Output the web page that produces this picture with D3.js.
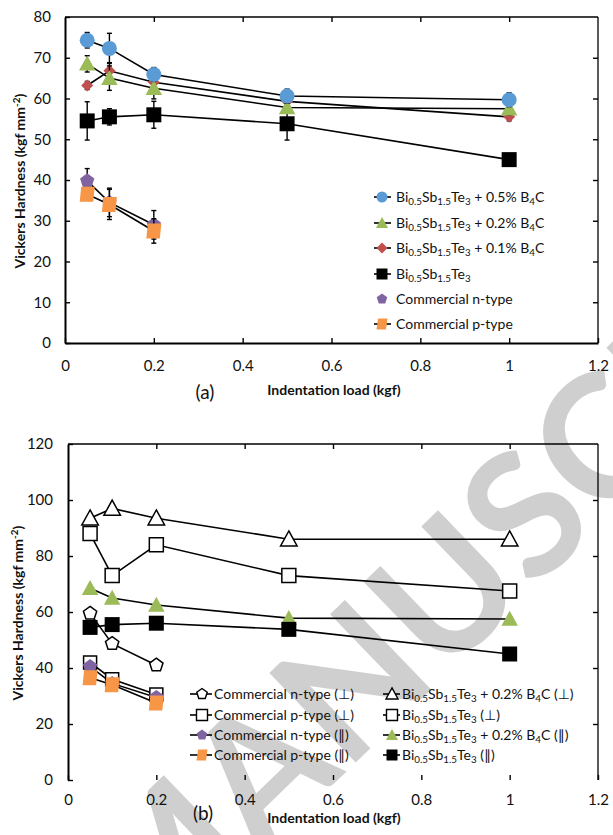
<!DOCTYPE html>
<html><head><meta charset="utf-8">
<script src="https://cdn.jsdelivr.net/npm/d3@7"></script>
<style>
body{margin:0;background:#fff}
svg{display:block}
text{font-family:Lato,"Open Sans","DejaVu Sans",sans-serif;fill:#111}
</style>
</head><body>
<svg id="chart" width="613" height="835"></svg>
<script>
// ---------- DATA ----------
const loads = [0.05, 0.1, 0.2, 0.5, 1];
const commLoads = [0.05, 0.1, 0.2];
const xTicks = [0, 0.2, 0.4, 0.6, 0.8, 1, 1.2];
const xTickLabels = ["0", "0.2", "0.4", "0.6", "0.8", "1", "1.2"];
const yTicksA = [0, 10, 20, 30, 40, 50, 60, 70, 80];
const yTicksB = [0, 20, 40, 60, 80, 100, 120];

// panel (a)
const a_b4c05 = [74.3, 72.3, 65.9, 60.6, 59.7];
const a_b4c05_err = [1.9, 3.7, 1.7, 1.7, 1.7];
const a_b4c02 = [68.5, 65.0, 62.5, 57.8, 57.5];
const a_b4c02_err = [2.0, 3.0, 2.6, 1.0, 1.5];
const a_b4c01 = [63.2, 66.8, 64.0, 59.3, 55.5];
const a_b4c01_err = [1.0, 2.0, 1.0, 1.0, 1.0];
const a_bst = [54.5, 55.5, 56.0, 53.8, 45.0];
const a_bst_err = [4.7, 2.0, 3.3, 4.0, 0.5];
const a_nType = [39.8, 34.5, 29.0];
const a_nType_err = [3.0, 3.5, 3.5];
const a_pType = [36.5, 34.0, 27.5];
const a_pType_err = [1.5, 3.7, 3.0];

// panel (b)
const b_nPerp = [59.5, 48.7, 41.0];
const b_pPerp = [42.0, 36.0, 30.5];
const b_nPar = [40.5, 34.5, 29.5];
const b_pPar = [36.5, 34.0, 27.5];
const b_b4c02Perp = [93.5, 97.0, 93.5, 86.0, 86.0];
const b_bstPerp = [88.0, 73.0, 84.0, 73.0, 67.5];
const b_b4c02Par = [68.5, 65.0, 62.5, 57.8, 57.5];
const b_bstPar = [54.5, 55.5, 56.0, 53.8, 45.0];

const legendA = [
  "Bi_{0.5}Sb_{1.5}Te_{3} + 0.5% B_{4}C",
  "Bi_{0.5}Sb_{1.5}Te_{3} + 0.2% B_{4}C",
  "Bi_{0.5}Sb_{1.5}Te_{3} + 0.1% B_{4}C",
  "Bi_{0.5}Sb_{1.5}Te_{3}",
  "Commercial n-type",
  "Commercial p-type"
];
const legendB1 = ["Commercial n-type (\u22A5)", "Commercial p-type (\u22A5)", "Commercial n-type (\u2225)", "Commercial p-type (\u2225)"];
const legendB2 = ["Bi_{0.5}Sb_{1.5}Te_{3} + 0.2% B_{4}C (\u22A5)", "Bi_{0.5}Sb_{1.5}Te_{3}  (\u22A5)", "Bi_{0.5}Sb_{1.5}Te_{3} + 0.2% B_{4}C (\u2225)", "Bi_{0.5}Sb_{1.5}Te_{3} (\u2225)"];

// ---------- HELPERS ----------
const COL = {blue:"#5b9bd5", green:"#9bbb59", red:"#c0504d", black:"#000", purple:"#8064a2", orange:"#f79646"};
const svg = d3.select("#chart");

function poly(pts){ return "M" + pts.map(p => p[0].toFixed(2) + "," + p[1].toFixed(2)).join("L") + "Z"; }
function regular(n, r, rot){ const a=[]; for(let k=0;k<n;k++){ const t = rot + k*2*Math.PI/n; a.push([r*Math.cos(t), r*Math.sin(t)]);} return a; }
function markerPath(type, s){
  switch(type){
    case "circle": return d3.symbol(d3.symbolCircle, Math.PI*s*s/4)();
    case "square": return poly([[-s/2,-s/2],[s/2,-s/2],[s/2,s/2],[-s/2,s/2]]);
    case "triangle": return poly([[0,-s*0.55],[s*0.55,s*0.45],[-s*0.55,s*0.45]]);
    case "diamond": return poly([[0,-s/2],[s/2,0],[0,s/2],[-s/2,0]]);
    case "pentagon": return poly(regular(5, s/2, -Math.PI/2));
    case "para": return poly([[-s/2+1.5,-s/2],[s/2,-s/2],[s/2-1.5,s/2],[-s/2,s/2]]);
  }
}
function richText(sel, str, size){
  const parts = str.split(/(_\{[^}]*\})/).filter(p => p.length);
  let sub = false;
  parts.forEach(p => {
    if (p.startsWith("_{")) {
      sel.append("tspan").attr("dy", 3).attr("font-size", size*0.7).text(p.slice(2,-1));
      sub = true;
    } else {
      const t = sel.append("tspan").text(p);
      if (sub) { t.attr("dy", -3); sub = false; }
    }
  });
}

function panel(cfg){
  const x = d3.scaleLinear().domain([0, 1.2]).range([cfg.left, cfg.right]);
  const y = d3.scaleLinear().domain([0, cfg.ymax]).range([cfg.bottom, cfg.top]);
  const g = svg.append("g");
  const fr = g.append("g").attr("stroke", "#000").attr("fill", "none");
  fr.append("line").attr("x1", cfg.left).attr("x2", cfg.right).attr("y1", cfg.top).attr("y2", cfg.top).attr("stroke-width", 1.3);
  fr.append("line").attr("x1", cfg.right).attr("x2", cfg.right).attr("y1", cfg.top).attr("y2", cfg.bottom).attr("stroke-width", 1.3);

  const yAx = g.append("g").attr("transform", `translate(${cfg.left},0)`)
    .call(d3.axisLeft(y).tickValues(cfg.yTicks).tickSize(-5).tickPadding(cfg.yPad).tickSizeOuter(0));
  const xAx = g.append("g").attr("transform", `translate(0,${cfg.bottom})`)
    .call(d3.axisBottom(x).tickValues(xTicks).tickFormat((d,i) => xTickLabels[i]).tickSize(-5).tickPadding(cfg.xPad).tickSizeOuter(0));
  const topAx = g.append("g").attr("transform", `translate(0,${cfg.top})`)
    .call(d3.axisTop(x).tickValues(xTicks.slice(1,-1)).tickSize(-5).tickFormat("").tickSizeOuter(0));
  const rAx = g.append("g").attr("transform", `translate(${cfg.right},0)`)
    .call(d3.axisRight(y).tickValues(cfg.yTicks.slice(1,-1)).tickSize(-5).tickFormat("").tickSizeOuter(0));
  [yAx, xAx, topAx, rAx].forEach(a => { a.selectAll("text").attr("font-size", 15).attr("font-family", "Lato").attr("fill", "#111"); a.selectAll(".tick line").attr("stroke-width", 1.4); });
  topAx.select(".domain").remove(); rAx.select(".domain").remove();
  yAx.select(".domain").attr("stroke-width", 2);
  if (cfg.bottomLine) xAx.select(".domain").attr("stroke-width", 2); else xAx.select(".domain").remove();
  return {x, y, g};
}

function series(P, xs, vals, opt){
  const {x, y, g} = P;
  const pts = xs.map((d,i) => [d, vals[i]]);
  const sg = g.append("g");
  if (opt.err) {
    const eg = sg.append("g").attr("stroke", "#000").attr("stroke-width", 1.4);
    pts.forEach((p,i) => {
      const e = opt.err[i];
      eg.append("line").attr("x1", x(p[0])).attr("x2", x(p[0])).attr("y1", y(p[1]-e)).attr("y2", y(p[1]+e));
      [p[1]-e, p[1]+e].forEach(v => eg.append("line").attr("x1", x(p[0])-2.5).attr("x2", x(p[0])+2.5).attr("y1", y(v)).attr("y2", y(v)));
    });
  }
  sg.append("path").datum(pts).attr("fill", "none").attr("stroke", "#000").attr("stroke-width", 1.6)
    .attr("d", d3.line().x(d => x(d[0])).y(d => y(d[1])));
  sg.selectAll(".m").data(pts).join("path")
    .attr("transform", d => `translate(${x(d[0])},${y(d[1])})`)
    .attr("d", markerPath(opt.shape, opt.size))
    .attr("fill", opt.open ? "#fff" : opt.color)
    .attr("stroke", opt.open ? "#000" : "none")
    .attr("stroke-width", opt.open ? 1.5 : 0);
}

function legendRow(x0, x1, mx, y, tx, label, opt, size, fs, noLine){
  const lg = svg.append("g");
  if (!noLine) lg.append("line").attr("x1", x0).attr("x2", x1).attr("y1", y).attr("y2", y).attr("stroke", "#000").attr("stroke-width", 1.6);
  lg.append("path").attr("transform", `translate(${mx},${y})`).attr("d", markerPath(opt.shape, size))
    .attr("fill", opt.open ? "#fff" : opt.color).attr("stroke", opt.open ? "#000" : "none").attr("stroke-width", opt.open ? 1.4 : 0);
  const t = lg.append("text").attr("x", tx).attr("y", y + 5).attr("font-size", fs);
  richText(t, label, fs);
}

// ---------- WATERMARK (panel b) ----------
svg.append("defs").append("clipPath").attr("id", "pageClip")
  .append("rect").attr("x", 0).attr("y", 0).attr("width", 613).attr("height", 835);
svg.append("g").attr("clip-path", "url(#pageClip)")
  .append("text").attr("transform", "translate(143,968) rotate(-44)")
  .attr("font-family", "Liberation Sans, Arial, sans-serif").attr("font-weight", "bold")
  .attr("font-size", 172).style("fill", "#cfcfcf").text("MANUSCRIPT");

// ---------- PANEL (a) ----------
const PA = panel({left:65, right:598, top:17, bottom:343, ymax:80, yTicks:yTicksA, yPad:14, xPad:17, bottomLine:true});
const optA = [
  {shape:"circle", size:15, color:COL.blue},
  {shape:"triangle", size:15, color:COL.green},
  {shape:"diamond", size:12, color:COL.red},
  {shape:"square", size:15, color:COL.black},
  {shape:"pentagon", size:15, color:COL.purple},
  {shape:"para", size:15, color:COL.orange}
];
series(PA, loads, a_bst, {...optA[3], err:a_bst_err});
series(PA, loads, a_b4c01, {...optA[2], err:a_b4c01_err});
series(PA, loads, a_b4c02, {...optA[1], err:a_b4c02_err});
series(PA, loads, a_b4c05, {...optA[0], err:a_b4c05_err});
series(PA, commLoads, a_nType, {...optA[4], err:a_nType_err});
series(PA, commLoads, a_pType, {...optA[5], err:a_pType_err});

const legAy = [197, 223, 248, 274, 299, 324];
legendA.forEach((lab, i) => legendRow(374, 391, 382, legAy[i], 396, lab, optA[i], 11, 14, i === 4));

svg.append("text").attr("x", 20).attr("y", 181).attr("transform", "rotate(-90,20,181)")
  .attr("text-anchor", "middle").attr("dy", "0.35em").attr("font-size", 14).attr("font-weight", "bold")
  .html("Vickers Hardness (kgf mm<tspan dy='-5' font-size='10'>-2</tspan><tspan dy='5'>)</tspan>");
svg.append("text").attr("x", 334).attr("y", 395).attr("text-anchor", "middle").attr("font-size", 14).attr("font-weight", "bold").text("Indentation load (kgf)");
svg.append("text").attr("x", 205).attr("y", 399).attr("text-anchor", "middle").attr("font-size", 19).text("(a)");

// ---------- PANEL (b) ----------
const PB = panel({left:68, right:598, top:444, bottom:780, ymax:120, yTicks:yTicksB, yPad:15, xPad:14, bottomLine:false});
const optB1 = [
  {shape:"pentagon", size:14, open:true},
  {shape:"square", size:13, open:true},
  {shape:"pentagon", size:15, color:COL.purple},
  {shape:"para", size:15, color:COL.orange}
];
const optB2 = [
  {shape:"triangle", size:15, open:true},
  {shape:"square", size:14, open:true},
  {shape:"triangle", size:15, color:COL.green},
  {shape:"square", size:15, color:COL.black}
];
series(PB, loads, b_b4c02Perp, optB2[0]);
series(PB, loads, b_bstPerp, optB2[1]);
series(PB, loads, b_b4c02Par, optB2[2]);
series(PB, loads, b_bstPar, optB2[3]);
series(PB, commLoads, b_nPerp, optB1[0]);
series(PB, commLoads, b_pPerp, optB1[1]);
series(PB, commLoads, b_nPar, optB1[2]);
series(PB, commLoads, b_pPar, optB1[3]);

const legBy = [694, 715, 735, 755];
legendB1.forEach((lab, i) => legendRow(190, 212, 202, legBy[i], 214, lab, optB1[i], 11, 14));
legendB2.forEach((lab, i) => legendRow(383, 400, 392, legBy[i], 402, lab, optB2[i], 11, 14));

svg.append("text").attr("x", 18).attr("y", 613).attr("transform", "rotate(-90,18,613)")
  .attr("text-anchor", "middle").attr("dy", "0.35em").attr("font-size", 14).attr("font-weight", "bold")
  .html("Vickers Hardness (kgf mm<tspan dy='-5' font-size='10'>-2</tspan><tspan dy='5'>)</tspan>");
svg.append("text").attr("x", 334).attr("y", 823).attr("text-anchor", "middle").attr("font-size", 14).attr("font-weight", "bold").text("Indentation load (kgf)");
svg.append("text").attr("x", 203).attr("y", 820).attr("text-anchor", "middle").attr("font-size", 19).text("(b)");
</script>
</body></html>
